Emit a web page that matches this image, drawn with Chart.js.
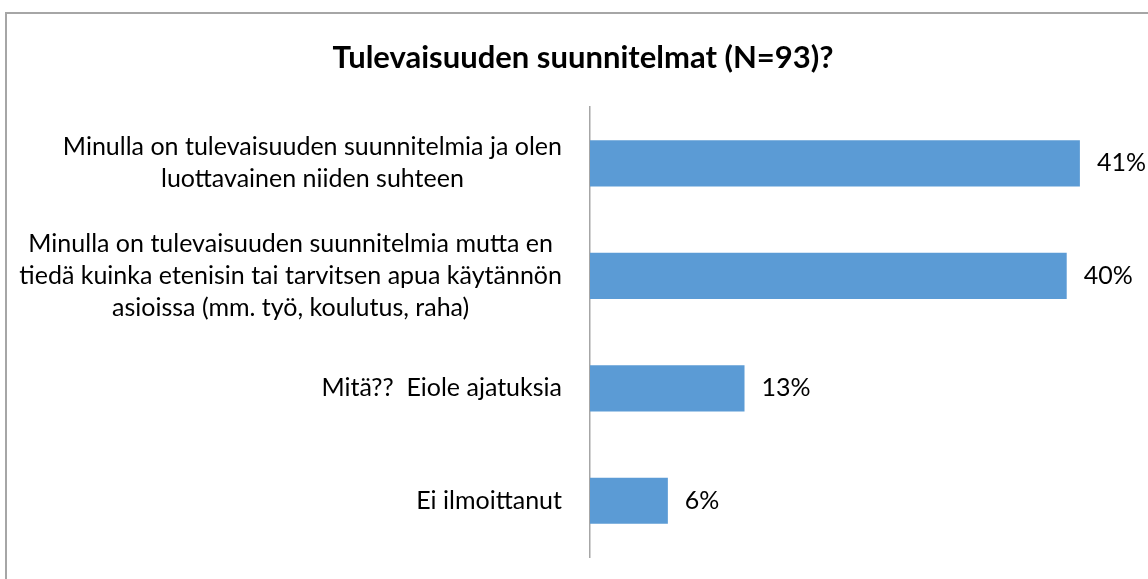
<!DOCTYPE html>
<html>
<head>
<meta charset="utf-8">
<script src="https://cdn.jsdelivr.net/npm/chart.js@4.4.1/dist/chart.umd.min.js"></script>
<style>
  html, body { margin: 0; padding: 0; background: #fff; overflow: hidden; }
  .frame {
    position: absolute; left: 5px; top: 12px;
    width: 1141px; height: 565px;
    border-left: 2px solid #a6a6a6; border-top: 2px solid #a6a6a6;
  }
  canvas { display: block; }
</style>
</head>
<body>
<div class="frame"><canvas id="chart" width="1141" height="565"></canvas></div>
<script>
// --- data ---
const chartTitle = 'Tulevaisuuden suunnitelmat (N=93)?';
const categories = [
  ['Minulla on tulevaisuuden suunnitelmia ja olen', 'luottavainen niiden suhteen'],
  ['Minulla on tulevaisuuden suunnitelmia mutta en', 'tiedä kuinka etenisin tai tarvitsen apua käytännön', 'asioissa (mm. työ, koulutus, raha)'],
  ['Mitä??  Eiole ajatuksia'],
  ['Ei ilmoittanut'],
];
const percentages = [40.9, 39.8, 12.9, 6.5];
const valueLabels = ['41%', '40%', '13%', '6%'];

const FONT = 'Lato, "Open Sans", sans-serif';
const labelSize = 25;

// category labels: each block centred, block right-aligned to the axis
const labelPlugin = {
  id: 'labels',
  afterDraw(chart) {
    const { ctx, chartArea } = chart;
    const y = chart.scales.y;
    const x = chart.scales.x;
    ctx.save();
    ctx.fillStyle = '#000';
    ctx.font = `${labelSize}px ${FONT}`;
    ctx.textBaseline = 'middle';
    const lineH = 32;
    categories.forEach((lines, i) => {
      const cy = y.getPixelForValue(i);
      const blockW = Math.max(...lines.map(l => ctx.measureText(l).width));
      const cx = chartArea.left - 28 - blockW / 2;
      ctx.textAlign = 'center';
      lines.forEach((l, j) => {
        ctx.fillText(l, cx, cy + (j - (lines.length - 1) / 2) * lineH);
      });
      ctx.textAlign = 'left';
      ctx.fillText(valueLabels[i], x.getPixelForValue(percentages[i]) + 17, cy);
    });
    ctx.restore();
  }
};

new Chart(document.getElementById('chart'), {
  type: 'bar',
  data: {
    labels: categories,
    datasets: [{
      data: percentages,
      backgroundColor: '#5b9bd5',
      barPercentage: 0.41,
      categoryPercentage: 1,
    }],
  },
  options: {
    indexAxis: 'y',
    responsive: false,
    animation: false,
    layout: { padding: { top: 0, right: 19, bottom: 22, left: 30 } },
    plugins: {
      legend: { display: false },
      tooltip: { enabled: false },
      title: {
        display: true,
        text: chartTitle,
        color: '#000',
        font: { family: FONT, size: 31, weight: 'bold' },
        padding: { top: 25, bottom: 31 },
      },
    },
    scales: {
      x: { display: false, min: 0, max: 45 },
      y: {
        grid: { display: false },
        border: { display: true, color: '#a6a6a6', width: 1.5 },
        ticks: { display: false },
        afterFit(scale) { scale.width = 553; },
      },
    },
  },
  plugins: [labelPlugin],
});
</script>
</body>
</html>
